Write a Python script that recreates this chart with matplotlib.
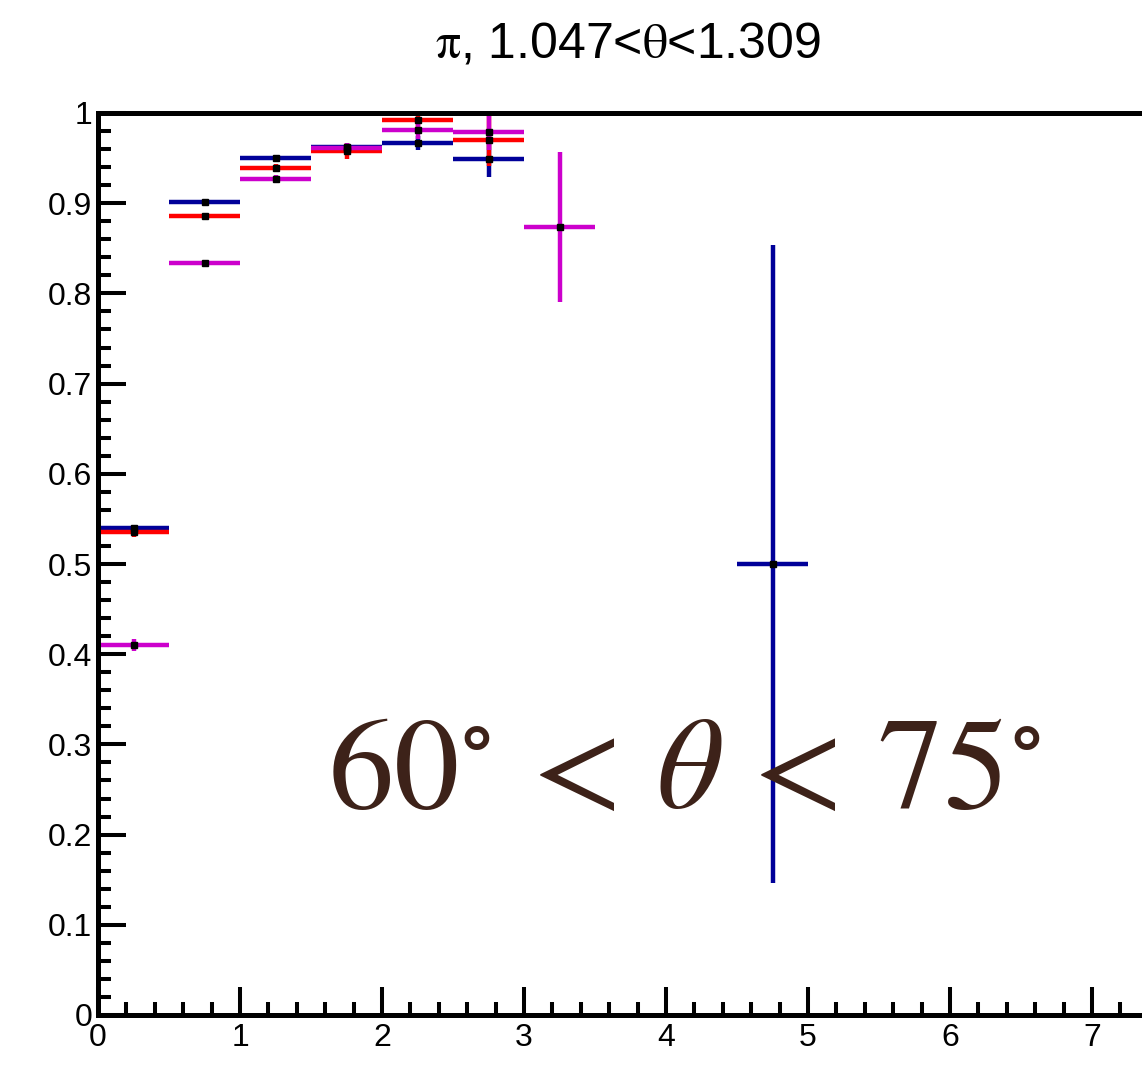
import numpy as np
import matplotlib
matplotlib.use("Agg")
import matplotlib.pyplot as plt
from matplotlib.ticker import MultipleLocator

plt.rcParams['font.family'] = ['Liberation Sans', 'DejaVu Sans']
plt.rcParams['mathtext.fontset'] = 'stix'

# bin centres (GeV) and half widths
x_blue = [0.25, 0.75, 1.25, 1.75, 2.25, 2.75, 4.75]
y_blue = [0.540, 0.901, 0.950, 0.962, 0.967, 0.949, 0.500]
e_blue = [0.003, 0.002, 0.003, 0.004, 0.008, 0.020, 0.354]

x_red = [0.25, 0.75, 1.25, 1.75, 2.25, 2.75]
y_red = [0.535, 0.886, 0.939, 0.958, 0.992, 0.970]
e_red = [0.005, 0.002, 0.004, 0.009, 0.008, 0.029]

x_mag = [0.25, 0.75, 1.25, 1.75, 2.25, 2.75, 3.25]
y_mag = [0.410, 0.834, 0.927, 0.961, 0.981, 0.979, 0.874]
e_mag = [0.007, 0.002, 0.004, 0.006, 0.010, 0.020, 0.083]

half_width = 0.25

xticks = [0, 1, 2, 3, 4, 5, 6, 7]
yticks = [0, 0.1, 0.2, 0.3, 0.4, 0.5, 0.6, 0.7, 0.8, 0.9, 1]
ylabels = ['0', '0.1', '0.2', '0.3', '0.4', '0.5', '0.6', '0.7', '0.8', '0.9', '1']

BLUE = '#000099'
RED = '#ff0000'
MAGENTA = '#cc00cc'

fig = plt.figure(figsize=(11.42, 10.89), dpi=100)
# axes extend past the right edge of the canvas, as in the original pad
ax = fig.add_axes([98 / 1142, 74 / 1089, 8 * 142 / 1142, 902 / 1089])

for xs, ys, es, col in [(x_blue, y_blue, e_blue, BLUE),
                        (x_red, y_red, e_red, RED),
                        (x_mag, y_mag, e_mag, MAGENTA)]:
    ax.errorbar(xs, ys, xerr=half_width, yerr=es, fmt='s', color=col,
                ecolor=col, elinewidth=3.2, capsize=0, ms=4.2,
                mfc='black', mec='black')

ax.set_xlim(0, 8)
ax.set_ylim(0, 1)

ax.set_xticks(xticks)
ax.xaxis.set_minor_locator(MultipleLocator(0.2))
ax.set_yticks(yticks)
ax.set_yticklabels(ylabels)
ax.yaxis.set_minor_locator(MultipleLocator(0.02))

ax.tick_params(which='both', direction='in', width=2.9, labelsize=23,
               top=False, right=False)
ax.tick_params(which='major', length=20)
ax.tick_params(which='minor', length=9.5)
ax.tick_params(axis='y', pad=4)
ax.tick_params(axis='x', pad=6)

for s in ax.spines.values():
    s.set_linewidth(3.6)

fig.text(0.55, 1 - 58 / 1089, r'$\mathrm{\pi}$, 1.047<$\mathrm{\theta}$<1.309',
         ha='center', va='baseline', fontsize=36)

ax.text(4.127, 0.230, r'$60^{\circ}\, <\, \theta\, <\, 75^{\circ}$', ha='center',
        va='baseline', fontsize=94, color='#3d2219')

fig.savefig('out.png', dpi=100)
